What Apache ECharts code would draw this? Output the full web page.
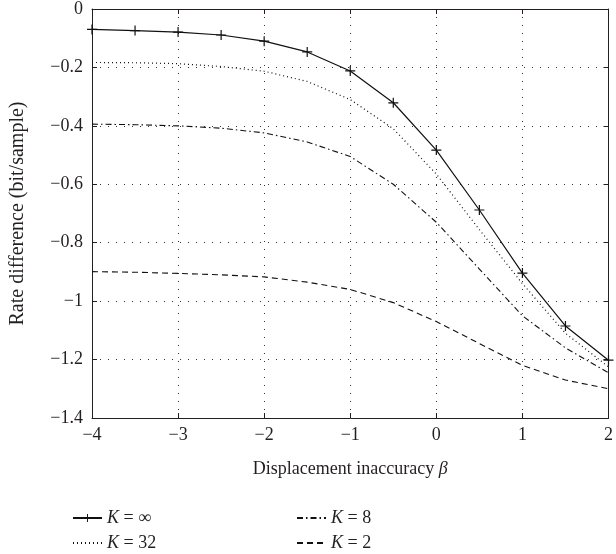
<!DOCTYPE html>
<html>
<head>
<meta charset="utf-8">
<script src="https://cdn.jsdelivr.net/npm/echarts@6/dist/echarts.min.js"></script>
<style>
html, body { margin: 0; padding: 0; background: #fff; }
#app { width: 616px; height: 554px; }
</style>
</head>
<body>
<div id="app"></div>
<script>
var beta = [-4, -3.5, -3, -2.5, -2, -1.5, -1, -0.5, 0, 0.5, 1, 1.5, 2];
var kInf = [-0.070, -0.074, -0.079, -0.089, -0.110, -0.147, -0.212, -0.321, -0.483, -0.688, -0.904, -1.085, -1.202];
var k32 = [-0.183, -0.184, -0.187, -0.197, -0.213, -0.248, -0.310, -0.410, -0.565, -0.755, -0.940, -1.110, -1.225];
var k8 = [-0.394, -0.396, -0.400, -0.408, -0.424, -0.455, -0.505, -0.600, -0.730, -0.890, -1.050, -1.160, -1.245];
var k2 = [-0.899, -0.901, -0.905, -0.910, -0.917, -0.935, -0.960, -1.005, -1.070, -1.145, -1.220, -1.270, -1.300];
var names = ['K = ∞', 'K = 32', 'K = 8', 'K = 2'];

window.onload = function() {
	var myChart = echarts.init(document.getElementById('app'));
	var font = 'Liberation Serif';
	var ink = '#231f20';
	function pairs(ys) {
		var out = [];
		for (var i = 0; i < beta.length; i++) {
			out.push([beta[i], ys[i]]);
		}
		return out;
	}
	function minus(v) {
		return String(v).replace('-', '\u2212');
	}
	var gridLine = { show: true, lineStyle: { color: '#333', type: [1, 7], width: 1 } };
	var legendText = {
		fontFamily: font, fontSize: 18, color: ink,
		rich: { i: { fontFamily: font, fontSize: 18, fontStyle: 'italic', color: ink } }
	};
	function legendFmt(name) {
		return '{i|K}' + name.slice(1);
	}
	// one legend per entry, laid out in two columns
	var legendPos = [[67, 504], [67, 529], [291, 504], [291, 529]];
	var legends = [];
	for (var i = 0; i < names.length; i++) {
		var lg = {
			data: [names[i]],
			left: legendPos[i][0], top: legendPos[i][1],
			itemWidth: 29, itemHeight: 10, itemGap: 8,
			textStyle: legendText,
			formatter: legendFmt
		};
		if (i > 0) {
			lg.itemStyle = { opacity: 0 };
		}
		legends.push(lg);
	}
	var option = {
		animation: false,
		grid: { left: 90, top: 9, right: 6, bottom: 136 },
		legend: legends,
		xAxis: [{
			type: 'value', min: -4, max: 2, interval: 1,
			name: 'Displacement inaccuracy {b|β}',
			nameLocation: 'middle', nameGap: 42,
			nameTextStyle: {
				fontFamily: font, fontSize: 18, color: ink,
				rich: { b: { fontFamily: font, fontSize: 18, fontStyle: 'italic', color: ink } }
			},
			axisLine: { show: true, onZero: false, lineStyle: { color: ink, width: 1 } },
			axisTick: { show: true, inside: true, length: 5, lineStyle: { color: ink } },
			axisLabel: { fontFamily: font, fontSize: 18, color: ink, margin: 8, formatter: minus },
			splitLine: gridLine
		}, {
			type: 'value', min: -4, max: 2, interval: 1, position: 'top',
			axisLine: { show: true, onZero: false, lineStyle: { color: ink, width: 1 } },
			axisTick: { show: true, inside: true, length: 5, lineStyle: { color: ink } },
			axisLabel: { show: false },
			splitLine: { show: false }
		}],
		yAxis: [{
			type: 'value', min: -1.4, max: 0, interval: 0.2,
			name: 'Rate difference (bit/sample)',
			nameLocation: 'middle', nameGap: 64,
			nameTextStyle: { fontFamily: font, fontSize: 20, color: ink },
			axisLine: { show: true, onZero: false, lineStyle: { color: ink, width: 1 } },
			axisTick: { show: true, inside: true, length: 5, lineStyle: { color: ink } },
			axisLabel: { fontFamily: font, fontSize: 18, color: ink, margin: 9, formatter: function(v) { return minus(+v.toFixed(1)); } },
			splitLine: gridLine
		}, {
			type: 'value', min: -1.4, max: 0, interval: 0.2, position: 'right',
			axisLine: { show: true, onZero: false, lineStyle: { color: ink, width: 1 } },
			axisTick: { show: true, inside: true, length: 5, lineStyle: { color: ink } },
			axisLabel: { show: false },
			splitLine: { show: false }
		}],
		series: [{
			name: names[0], type: 'line', data: pairs(kInf),
			symbol: 'path://M4.4,0h1.2v10h-1.2zM0,4.4h10v1.2h-10z', symbolSize: 10,
			itemStyle: { color: '#111' },
			lineStyle: { color: '#111', width: 1.2 }
		}, {
			name: names[1], type: 'line', data: pairs(k32), symbol: 'none',
			itemStyle: { color: '#111' },
			lineStyle: { color: '#111', width: 1.2, type: [1, 3] }
		}, {
			name: names[2], type: 'line', data: pairs(k8), symbol: 'none',
			itemStyle: { color: '#111' },
			lineStyle: { color: '#111', width: 1.1, type: [6, 3, 1.5, 3] }
		}, {
			name: names[3], type: 'line', data: pairs(k2), symbol: 'none',
			itemStyle: { color: '#111' },
			lineStyle: { color: '#111', width: 1.1, type: [6, 4] }
		}]
	};
	myChart.setOption(option);
};
</script>
</body>
</html>
